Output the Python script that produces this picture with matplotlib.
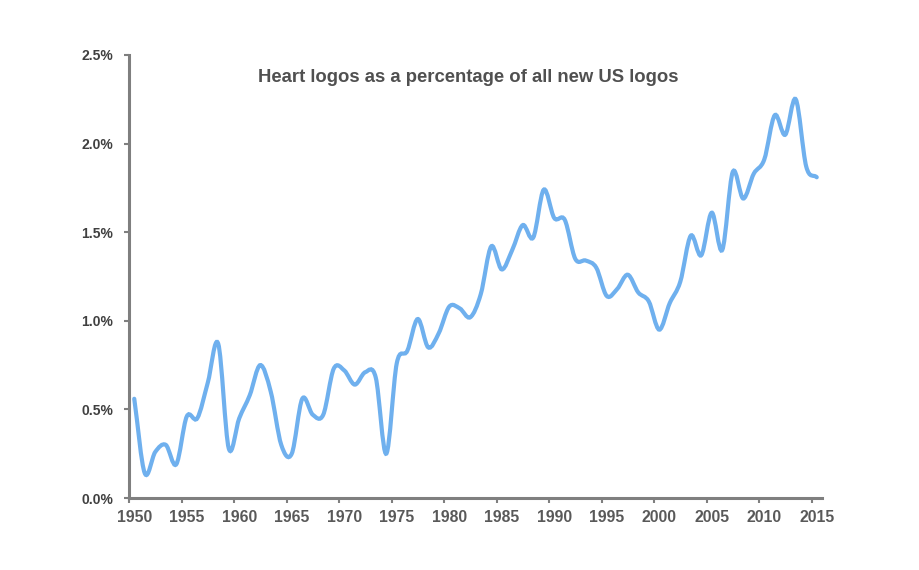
import numpy as np
import matplotlib.pyplot as plt
from matplotlib.path import Path
from matplotlib.patches import PathPatch

# Here I type in the yearly share of heart logos (in percent)
years = np.arange(1950, 2016)
share = np.array([
    0.56, 0.14, 0.26, 0.30, 0.19, 0.46, 0.45, 0.65, 0.87, 0.28,
    0.45, 0.58, 0.75, 0.60, 0.30, 0.25, 0.56, 0.47, 0.47, 0.73,
    0.72, 0.64, 0.71, 0.68, 0.25, 0.76, 0.83, 1.01, 0.85, 0.93,
    1.08, 1.07, 1.02, 1.15, 1.42, 1.29, 1.40, 1.54, 1.47, 1.74,
    1.58, 1.57, 1.35, 1.34, 1.30, 1.14, 1.18, 1.26, 1.16, 1.11,
    0.95, 1.10, 1.22, 1.48, 1.37, 1.61, 1.40, 1.84, 1.69, 1.83,
    1.91, 2.16, 2.05, 2.25, 1.87, 1.81])

# Bezier handles so the line is smoothed the way a spreadsheet does it
before = np.r_[share[0] - (share[1] - share[0]), share[:-1]]
after = np.r_[share[1:], share[-1] + (share[-1] - share[-2])]
slope = (after - before) / 2
verts = [(years[0], share[0])]
for i in range(len(years) - 1):
    verts.append((years[i] + 1 / 3, share[i] + slope[i] / 3))
    verts.append((years[i + 1] - 1 / 3, share[i + 1] - slope[i + 1] / 3))
    verts.append((years[i + 1], share[i + 1]))
codes = [Path.MOVETO] + [Path.CURVE4] * (len(verts) - 1)

plt.rcParams['font.family'] = 'Liberation Sans'
plt.rcParams['font.weight'] = 'bold'

plt.figure(figsize=(9.2, 5.7), dpi=100)
plt.axes([129 / 920, 72 / 570, 693 / 920, 443 / 570])
plt.gca().add_patch(PathPatch(Path(verts, codes), fill=False, edgecolor='#6fb0ee',
                              linewidth=3, capstyle='round', zorder=3))
plt.xlim(1949.5, 2015.5)
plt.ylim(0, 2.5)

# Ticks sit between the years, so the labels go on as minor ticks at the centres
plt.xticks(np.arange(1949.5, 2015, 5), [])
plt.gca().set_xticks(list(np.arange(1950, 2015, 5)) + [2015], minor=True)
plt.gca().set_xticklabels([str(y) for y in range(1950, 2016, 5)], minor=True,
                          fontsize=11.3, color='#595959')
plt.yticks(np.arange(0, 2.6, 0.5), [f'{v:.1f}%' for v in np.arange(0, 2.6, 0.5)],
           fontsize=10, color='#404040')
plt.tick_params(axis='x', which='major', length=3.5, width=1.5, color='#7f7f7f')
plt.tick_params(axis='x', which='minor', length=0, pad=8.5)
plt.tick_params(axis='y', length=3.5, width=1.5, color='#7f7f7f', pad=8)

plt.gca().spines['top'].set_visible(False)
plt.gca().spines['right'].set_visible(False)
plt.gca().spines['left'].set_color('#7f7f7f')
plt.gca().spines['bottom'].set_color('#7f7f7f')
plt.gca().spines['left'].set_linewidth(2.2)
plt.gca().spines['bottom'].set_linewidth(2.2)

plt.text(1981.8, 2.375, 'Heart logos as a percentage of all new US logos', ha='center',
         va='center', fontsize=13.35, color='#505050')

plt.savefig('out.png', dpi=100)
